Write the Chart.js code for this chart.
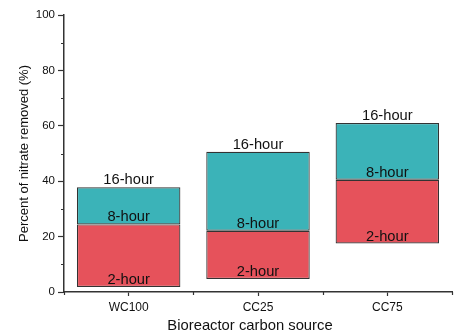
<!DOCTYPE html>
<html><head><meta charset="utf-8">
<script src="https://cdn.jsdelivr.net/npm/chart.js@4"></script>
<style>html,body{margin:0;padding:0;background:#fff}#wrap{width:461px;height:333px}</style>
</head><body><div id="wrap"><canvas id="c" width="461" height="333"></canvas></div>
<script>
const categories = ['WC100', 'CC25', 'CC75'];
const removal2h = [1.8, 4.7, 17.5];
const removal8h = [24.4, 22.1, 40.5];
const removal16h = [37.8, 50.6, 61.0];
const stageLabels = ['2-hour', '8-hour', '16-hour'];
const yMajorTicks = [0, 20, 40, 60, 80, 100];
const yMinorTicks = [10, 30, 50, 70, 90];
const xTitle = 'Bioreactor carbon source';
const yTitle = 'Percent of nitrate removed (%)';

const FONT = '"Liberation Sans", Arial, Helvetica, sans-serif';
const TXT = '#111';

const labelPlugin = {
  id: 'stageLabels',
  afterDatasetsDraw(chart) {
    const {ctx, scales: {x, y}} = chart;
    ctx.save();
    ctx.fillStyle = TXT;
    ctx.font = '14.7px ' + FONT;
    ctx.textAlign = 'center';
    ctx.textBaseline = 'alphabetic';
    const series = [removal2h, removal8h, removal16h];
    categories.forEach((c, i) => {
      const cx = x.getPixelForValue(i);
      series.forEach((s, k) => {
        ctx.fillText(stageLabels[k], cx, y.getPixelForValue(s[i]) - 3);
      });
    });
    ctx.restore();
  },
  afterDraw(chart) {
    const {ctx, scales: {x, y}} = chart;
    ctx.save();
    ctx.strokeStyle = '#333';
    ctx.lineWidth = 1.2;
    ctx.beginPath();
    yMinorTicks.forEach(v => {
      const py = Math.round(y.getPixelForValue(v)) + 0.5;
      ctx.moveTo(y.right - 3, py); ctx.lineTo(y.right, py);
    });
    const sp = x.getPixelForValue(1) - x.getPixelForValue(0);
    for (let i = 0; i <= categories.length; i++) {
      const px = Math.round(x.getPixelForValue(0) - sp / 2 + i * sp) + 0.5;
      ctx.moveTo(px, x.top); ctx.lineTo(px, x.top + 3);
    }
    ctx.stroke();
    // x-axis title (slightly left of the plot centre, as in the reference)
    ctx.fillStyle = TXT;
    ctx.font = '14.8px ' + FONT;
    ctx.textAlign = 'center';
    ctx.textBaseline = 'middle';
    ctx.fillText(xTitle, (x.left + x.right) / 2 - 8, 325.5);
    ctx.restore();
  }
};

new Chart(document.getElementById('c'), {
  type: 'bar',
  data: {
    labels: categories,
    datasets: [
      {
        label: stageLabels[0],
        data: removal2h.map((v, i) => [v, removal8h[i]]),
        backgroundColor: '#E6525B',
        borderColor: '#333',
        borderWidth: 1.2,
        borderSkipped: false,
        grouped: false,
        barPercentage: 1,
        categoryPercentage: 0.8
      },
      {
        label: stageLabels[1],
        data: removal8h.map((v, i) => [v, removal16h[i]]),
        backgroundColor: '#3BB3B8',
        borderColor: '#333',
        borderWidth: 1.2,
        borderSkipped: false,
        grouped: false,
        barPercentage: 1,
        categoryPercentage: 0.8
      }
    ]
  },
  options: {
    responsive: false,
    animation: false,
    events: [],
    layout: {padding: {top: 15, right: 9, left: 0, bottom: 0}},
    plugins: {legend: {display: false}, tooltip: {enabled: false}},
    scales: {
      x: {
        offset: true,
        grid: {offset: false, drawOnChartArea: false, drawTicks: true, tickLength: 4, tickColor: '#333', tickWidth: 1.2},
        border: {display: true, color: '#333', width: 1.5},
        ticks: {color: TXT, font: {family: FONT, size: 12}, padding: 4, maxRotation: 0},
        title: {display: false, text: xTitle},
        afterFit(s) { s.height = 41; }
      },
      y: {
        min: 0, max: 100,
        afterBuildTicks(s) { s.ticks = yMajorTicks.map(v => ({value: v})); },
        grid: {drawOnChartArea: false, drawTicks: true, tickLength: 6, tickColor: '#333', tickWidth: 1.2},
        border: {display: true, color: '#333', width: 1.5},
        ticks: {color: TXT, font: {family: FONT, size: 11.5}, padding: 3},
        title: {display: true, text: yTitle, color: TXT, font: {family: FONT, size: 13}, padding: {top: 17, bottom: 0}},
        afterFit(s) { s.width = 64; }
      }
    }
  },
  plugins: [labelPlugin]
});
</script>
</body></html>
